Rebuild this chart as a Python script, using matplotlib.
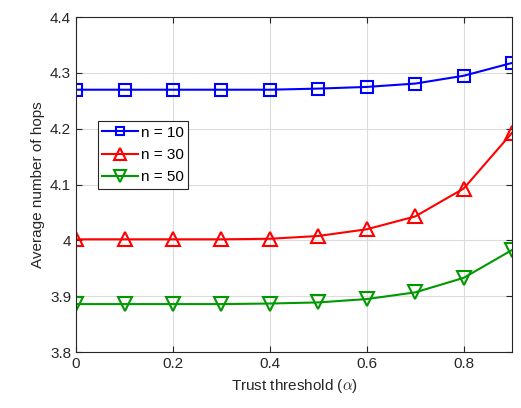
import numpy as np
import matplotlib
matplotlib.use("Agg")
import matplotlib.pyplot as plt

plt.rcParams["font.family"] = "sans-serif"
plt.rcParams["font.sans-serif"] = ["Liberation Sans"]
plt.rcParams["mathtext.fontset"] = "cm"

alpha = [0.0, 0.1, 0.2, 0.3, 0.4, 0.5, 0.6, 0.7, 0.8, 0.9]
hops_n10 = [4.270, 4.270, 4.270, 4.270, 4.270, 4.272, 4.275, 4.281, 4.295, 4.318]
hops_n30 = [4.002, 4.002, 4.002, 4.002, 4.003, 4.008, 4.020, 4.043, 4.093, 4.193]
hops_n50 = [3.886, 3.886, 3.886, 3.886, 3.887, 3.889, 3.895, 3.907, 3.933, 3.983]

fig = plt.figure(figsize=(5.21, 4.08), dpi=100)
ax = fig.add_axes([0.146, 0.137, 0.837, 0.821])

ax.plot(alpha, hops_n10, "-s", color=(0, 0, 1), lw=1.5, ms=8, mfc="none", mew=1.5, label="n = 10")
ax.plot(alpha, hops_n30, "-^", color=(1, 0, 0), lw=1.5, ms=10, mfc="none", mew=1.5, label="n = 30")
ax.plot(alpha, hops_n50, "-v", color=(0, 0.6, 0), lw=1.5, ms=10, mfc="none", mew=1.5, label="n = 50")

ax.set_xlim(0, 0.9)
ax.set_ylim(3.8, 4.4)
ax.set_xticks([0, 0.2, 0.4, 0.6, 0.8])
ax.set_xticklabels(["0", "0.2", "0.4", "0.6", "0.8"])
ax.set_yticks([3.8, 3.9, 4.0, 4.1, 4.2, 4.3, 4.4])
ax.set_yticklabels(["3.8", "3.9", "4", "4.1", "4.2", "4.3", "4.4"])
ax.grid(True, color="#dcdcdc", lw=0.8)
ax.set_axisbelow(True)
for s in ax.spines.values():
    s.set_color("#262626")
    s.set_linewidth(0.8)
ax.tick_params(direction="in", top=True, right=True, labelsize=11, colors="#262626", length=4)
ax.set_xlabel(r"Trust threshold ($\alpha$)", fontsize=11, color="#262626")
ax.set_ylabel("Average number of hops", fontsize=11, color="#262626")

leg = ax.legend(loc="upper left", bbox_to_anchor=(0.05, 0.69), fontsize=11,
                fancybox=False, edgecolor="#262626", framealpha=1, markerscale=0.8,
                handlelength=2.3, borderpad=0.3, labelspacing=0.55, handletextpad=0.2,
                borderaxespad=0)
leg.get_frame().set_linewidth(0.8)

fig.savefig("out.png", dpi=100)
